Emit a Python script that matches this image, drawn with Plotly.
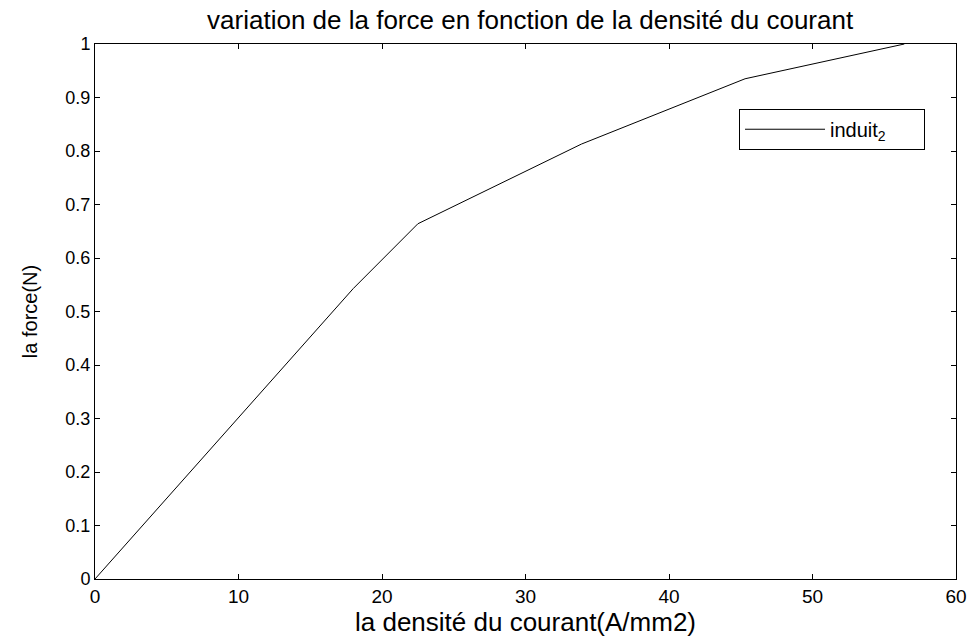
import plotly.graph_objects as go

# Data
current_density = [0, 18.0, 22.5, 33.9, 45.3, 56.4]
force = [0, 0.543, 0.664, 0.813, 0.935, 1.0]
series_name = "induit<sub>2</sub>"

x_ticks = [0, 10, 20, 30, 40, 50, 60]
y_ticks = [0, 0.1, 0.2, 0.3, 0.4, 0.5, 0.6, 0.7, 0.8, 0.9, 1]
y_tick_labels = ["0", "0.1", "0.2", "0.3", "0.4", "0.5", "0.6", "0.7", "0.8", "0.9", "1"]

FONT = "Liberation Sans, Arial, sans-serif"

fig = go.Figure()
fig.add_trace(go.Scatter(
    x=current_density, y=force, mode="lines",
    name=series_name + "&nbsp;" * 6,
    line=dict(color="black", width=1),
))

axis_common = dict(
    showgrid=False, zeroline=False, showline=True, linecolor="black", linewidth=1,
    mirror="ticks", ticks="inside", ticklen=5, tickcolor="black", tickwidth=1,
)

fig.update_layout(
    width=979, height=637,
    margin=dict(l=95, r=14, t=44, b=55),
    paper_bgcolor="white", plot_bgcolor="white",
    font=dict(family=FONT, color="black", size=16),
    title=dict(text="variation de la force en fonction de la densité du courant",
               x=0.5415, xanchor="center", y=0.968, yanchor="middle",
               font=dict(family=FONT, size=26, color="black")),
    xaxis=dict(range=[0, 60], tickvals=x_ticks, ticktext=[str(v) for v in x_ticks],
               tickfont=dict(size=19), title=dict(text="la densité du courant(A/mm2)",
               font=dict(size=26), standoff=0), **axis_common),
    yaxis=dict(range=[0, 1], tickvals=y_ticks, ticktext=y_tick_labels,
               tickfont=dict(size=18), title=dict(text="la force(N)",
               font=dict(size=20), standoff=22), **axis_common),
    showlegend=True,
    legend=dict(x=0.748, y=0.879, xanchor="left", yanchor="top",
                bordercolor="black", borderwidth=1, bgcolor="white",
                font=dict(size=20), itemwidth=80),
)

fig.write_html("out.html")
